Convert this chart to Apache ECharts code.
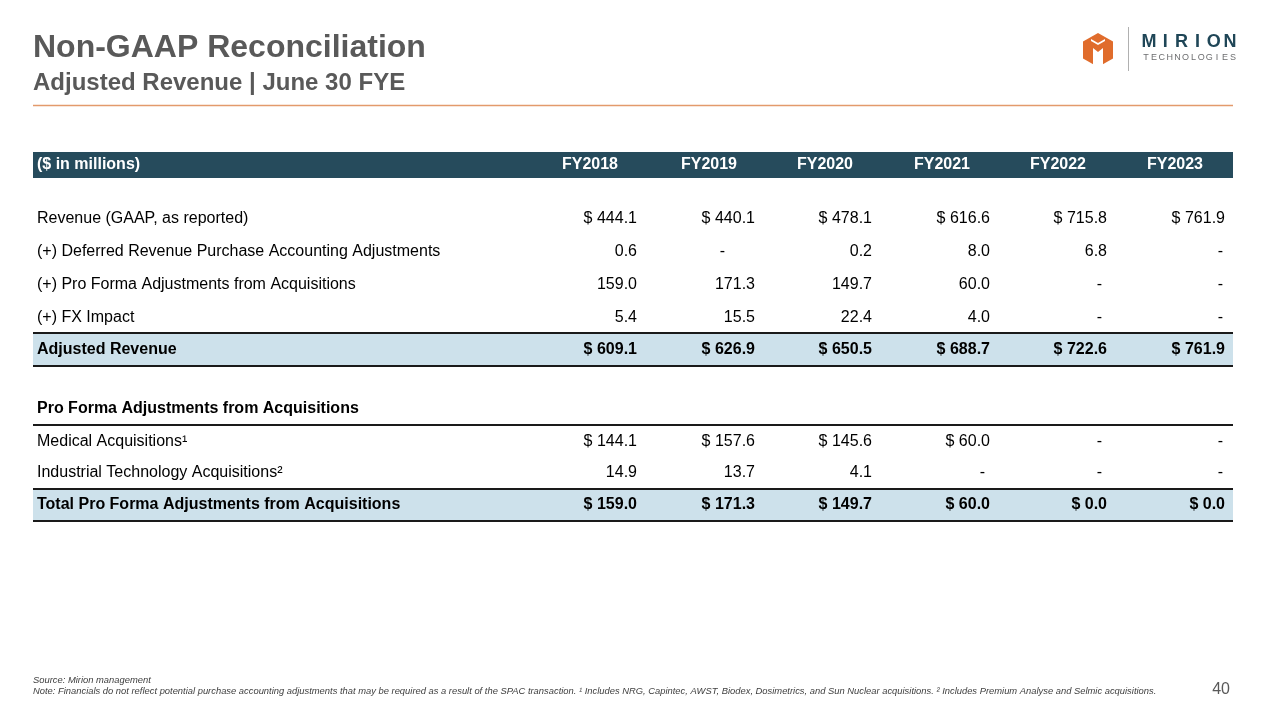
<!DOCTYPE html>
<html>
<head>
<meta charset="utf-8">
<script src="https://cdn.jsdelivr.net/npm/echarts@6/dist/echarts.min.js"></script>
<style>
  html, body { margin: 0; padding: 0; background: #fff; }
  #chart { width: 1280px; height: 720px; }
</style>
</head>
<body>
<div id="chart"></div>
<script>
// table data ($ in millions), null = "-"
const years = ['FY2018', 'FY2019', 'FY2020', 'FY2021', 'FY2022', 'FY2023'];
const revenueGaap = [444.1, 440.1, 478.1, 616.6, 715.8, 761.9];
const deferredRevenueAdj = [0.6, null, 0.2, 8.0, 6.8, null];
const proFormaAdj = [159.0, 171.3, 149.7, 60.0, null, null];
const fxImpact = [5.4, 15.5, 22.4, 4.0, null, null];
const adjustedRevenue = [609.1, 626.9, 650.5, 688.7, 722.6, 761.9];
const medicalAcq = [144.1, 157.6, 145.6, 60.0, null, null];
const industrialAcq = [14.9, 13.7, 4.1, null, null, null];
const totalProForma = [159.0, 171.3, 149.7, 60.0, 0.0, 0.0];

const rowLabels = [
    'Revenue (GAAP, as reported)',
    '(+) Deferred Revenue Purchase Accounting Adjustments',
    '(+) Pro Forma Adjustments from Acquisitions',
    '(+) FX Impact',
    'Adjusted Revenue',
    'Pro Forma Adjustments from Acquisitions',
    'Medical Acquisitions¹',
    'Industrial Technology Acquisitions²',
    'Total Pro Forma Adjustments from Acquisitions',
];
const rowValues = [revenueGaap, deferredRevenueAdj, proFormaAdj, fxImpact, adjustedRevenue, null, medicalAcq, industrialAcq, totalProForma];
const rowDollar = [true, false, false, false, true, false, true, false, true];
const rowBold = [false, false, false, false, true, true, false, false, true];

// layout (grid units = px inside the table grid)
const TABLE_W = 1200;
const TABLE_H = 370;
const rowY = [67, 100, 133, 166, 198, 257, 290, 321, 353];
const headerY = 13;
const valueRight = [604, 722, 839, 957, 1074, 1192];
const headerRight = [585, 704, 820, 937, 1053, 1170];
const dashPad = [5, 30, 5, 5, 5, 2];
const bands = [[0, 26, '#264b5c'], [181, 214, '#cde1eb'], [337, 369, '#cde1eb']];
const rules = [181, 214, 273, 337, 369];

const FONT = '"Liberation Sans", Arial, sans-serif';

const fmt = (v, dollar) => {
    if (v === null || v === undefined) return '-';
    return (dollar ? '$ ' : '') + v.toFixed(1);
};

// build cells
const cells = [];
cells.push({x: 4, y: headerY, text: '($ in millions)', align: 'left', bold: true, color: '#fff'});
years.forEach((yr, i) => {
    cells.push({x: headerRight[i], y: headerY, text: yr, align: 'right', bold: true, color: '#fff'});
});
rowLabels.forEach((label, r) => {
    cells.push({x: 4, y: rowY[r], text: label, align: 'left', bold: rowBold[r], color: '#000'});
    const vals = rowValues[r];
    if (!vals) return;
    vals.forEach((v, c) => {
        const isDash = v === null;
        cells.push({
            x: valueRight[c] - (isDash ? dashPad[c] : 0),
            y: rowY[r],
            text: fmt(v, rowDollar[r]),
            align: 'right',
            bold: rowBold[r],
            color: '#000',
        });
    });
});

const chart = echarts.init(document.getElementById('chart'));

const logoLetters = (str, x0, pitch, y, size, weight, color) => str.split('').map((ch, i) => ({
    type: 'text',
    x: x0 + i * pitch,
    y: y,
    style: {text: ch, fill: color, fontSize: size, fontWeight: weight, fontFamily: FONT, align: 'center', verticalAlign: 'middle'},
}));

chart.setOption({
    animation: false,
    grid: {left: 33, top: 152, width: TABLE_W, height: TABLE_H},
    xAxis: {type: 'value', min: 0, max: TABLE_W, show: false},
    yAxis: {type: 'value', min: 0, max: TABLE_H, inverse: true, show: false},
    graphic: [
        {type: 'text', left: 33, top: 32, style: {text: 'Non-GAAP Reconciliation', fill: '#595959', fontSize: 32, fontWeight: 'bold', fontFamily: FONT}},
        {type: 'text', left: 33, top: 71, style: {text: 'Adjusted Revenue | June 30 FYE', fill: '#595959', fontSize: 24, fontWeight: 'bold', fontFamily: FONT}},
        {type: 'line', shape: {x1: 33, y1: 105.5, x2: 1233, y2: 105.5}, style: {stroke: '#e39a6c', lineWidth: 1.5}},
        // logo
        {type: 'polygon', shape: {points: [[1098, 33], [1113, 41.5], [1113, 58.5], [1098, 67], [1083, 58.5], [1083, 41.5]]}, style: {fill: '#e06c2c'}},
        {type: 'polygon', shape: {points: [[1093, 67], [1093, 48], [1098, 52], [1103, 48], [1103, 67]]}, style: {fill: '#fff'}},
        {type: 'polygon', shape: {points: [[1091, 39], [1098, 43], [1105, 39], [1105, 41], [1098, 45], [1091, 41]]}, style: {fill: '#fff'}},
        {type: 'line', shape: {x1: 1128.5, y1: 27, x2: 1128.5, y2: 71}, style: {stroke: '#b0b0b0', lineWidth: 1}},
        ...logoLetters('MIRION', 1149, 16.2, 42, 18, 'bold', '#1f4657'),
        ...logoLetters('TECHNOLOGIES', 1146, 7.9, 58, 9, 'normal', '#6d6e70'),
        // footnotes
        {type: 'text', left: 33, top: 676, style: {text: 'Source: Mirion management', fill: '#404040', fontSize: 9.4, fontStyle: 'italic', fontFamily: FONT}},
        {type: 'text', left: 33, top: 687, style: {text: 'Note: Financials do not reflect potential purchase accounting adjustments that may be required as a result of the SPAC transaction. ¹ Includes NRG, Capintec, AWST, Biodex, Dosimetrics, and Sun Nuclear acquisitions. ² Includes Premium Analyse and Selmic acquisitions.', fill: '#404040', fontSize: 9.4, fontStyle: 'italic', fontFamily: FONT}},
        {type: 'text', right: 50, top: 682, style: {text: '40', fill: '#595959', fontSize: 16, fontFamily: FONT}},
    ],
    series: [
        {
            // row bands and rules
            type: 'custom',
            silent: true,
            clip: false,
            data: bands.map((b) => [b[0], b[1]]).concat(rules.map((y) => [y, y])),
            renderItem: (params, api) => {
                const i = params.dataIndex;
                const p0 = api.coord([0, api.value(0)]);
                const p1 = api.coord([TABLE_W, api.value(1)]);
                if (i < bands.length) {
                    return {type: 'rect', shape: {x: p0[0], y: p0[1], width: p1[0] - p0[0], height: p1[1] - p0[1]}, style: {fill: bands[i][2]}};
                }
                return {type: 'line', shape: {x1: p0[0], y1: p0[1], x2: p1[0], y2: p1[1]}, style: {stroke: '#1a1a1a', lineWidth: 2}};
            },
        },
        {
            // table text
            type: 'custom',
            silent: true,
            clip: false,
            data: cells.map((c) => [c.x, c.y]),
            renderItem: (params, api) => {
                const cell = cells[params.dataIndex];
                const pt = api.coord([api.value(0), api.value(1)]);
                return {
                    type: 'text',
                    x: pt[0],
                    y: pt[1],
                    style: {
                        text: cell.text,
                        fill: cell.color,
                        fontSize: 16,
                        fontWeight: cell.bold ? 'bold' : 'normal',
                        fontFamily: FONT,
                        align: cell.align,
                        verticalAlign: 'middle',
                    },
                };
            },
        },
    ],
});
</script>
</body>
</html>
